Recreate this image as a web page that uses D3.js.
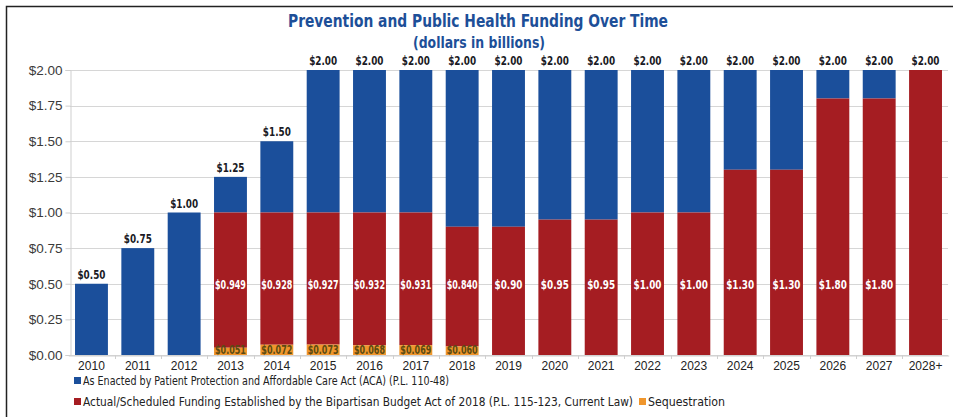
<!DOCTYPE html>
<html>
<head>
<meta charset="utf-8">
<script src="https://cdn.jsdelivr.net/npm/d3@7/dist/d3.min.js"></script>
<style>
  html, body { margin: 0; padding: 0; background: #fff; }
  svg { display: block; }
</style>
</head>
<body>
<svg id="chart" width="953" height="417"></svg>
<script>
// Fiscal years shown on the x-axis
const years = ["2010","2011","2012","2013","2014","2015","2016","2017","2018","2019",
               "2020","2021","2022","2023","2024","2025","2026","2027","2028+"];
// Total funding as enacted by the ACA (billions)
const enacted = [0.50, 0.75, 1.00, 1.25, 1.50, 2.00, 2.00, 2.00, 2.00, 2.00,
                 2.00, 2.00, 2.00, 2.00, 2.00, 2.00, 2.00, 2.00, 2.00];
// Actual / scheduled funding under the Bipartisan Budget Act of 2018 (billions)
const actual = [null, null, null, 0.949, 0.928, 0.927, 0.932, 0.931, 0.840, 0.90,
                0.95, 0.95, 1.00, 1.00, 1.30, 1.30, 1.80, 1.80, 2.00];
const actualText = [null, null, null, "$0.949", "$0.928", "$0.927", "$0.932", "$0.931", "$0.840", "$0.90",
                    "$0.95", "$0.95", "$1.00", "$1.00", "$1.30", "$1.30", "$1.80", "$1.80", null];
// Amount withheld by sequestration (billions)
const sequestration = [null, null, null, 0.051, 0.072, 0.073, 0.068, 0.069, 0.060, null,
                       null, null, null, null, null, null, null, null, null];
const yTicks = [0, 0.25, 0.5, 0.75, 1.0, 1.25, 1.5, 1.75, 2.0];

const BLUE = "#1b4f9b", RED = "#a51d22", ORANGE = "#f0962c";
const condensed = "'Liberation Sans Narrow', 'DejaVu Sans Condensed', 'Arial Narrow', sans-serif";
// squeeze bold labels into a narrow footprint
const labelWidth = s => s.length <= 5 ? 28 : 31;

const svg = d3.select("#chart");

// outer frame
svg.append("rect").attr("x", 6.5).attr("y", 6.5).attr("width", 1000).attr("height", 500)
  .attr("fill", "none").attr("stroke", "#222").attr("stroke-width", 1.5);

const x = d3.scaleBand().domain(years).range([68.3, 948.7]).paddingInner(0.29).paddingOuter(0.145);
const y = d3.scaleLinear().domain([0, 2]).range([355, 70]);

// gridlines
svg.append("g").selectAll("line").data(yTicks).join("line")
  .attr("x1", 70).attr("x2", 948)
  .attr("y1", d => Math.round(y(d)) + 0.5).attr("y2", d => Math.round(y(d)) + 0.5)
  .attr("stroke", "#d6d6d6").attr("stroke-width", 1);

// y axis
const yAxis = d3.axisLeft(y).tickValues(yTicks).tickFormat(d => "$" + d3.format(".2f")(d)).tickSize(5).tickPadding(3);
const gy = svg.append("g").attr("transform", "translate(70.5,0)").call(yAxis);
gy.select(".domain").attr("stroke", "#cfcfcf");
gy.selectAll(".tick line").attr("stroke", "#cfcfcf");
gy.selectAll("text").attr("font-family", "'Liberation Sans', Arial, sans-serif")
  .attr("font-size", 13.5).attr("fill", "#3a3a3a");

// x axis
const xAxis = d3.axisBottom(x).tickSize(0).tickPadding(6);
const gx = svg.append("g").attr("transform", "translate(0,355.5)").call(xAxis);
gx.select(".domain").attr("stroke", "#cfcfcf");
gx.selectAll("text").attr("font-family", "'Liberation Sans', Arial, sans-serif")
  .attr("font-size", 12).attr("fill", "#222");
// small ticks between categories
svg.append("g").selectAll("line").data(years.slice(1)).join("line")
  .attr("x1", d => Math.round(x(d) - x.step() * x.paddingInner() / 2) + 0.5)
  .attr("x2", d => Math.round(x(d) - x.step() * x.paddingInner() / 2) + 0.5)
  .attr("y1", 355).attr("y2", 359).attr("stroke", "#cfcfcf");

const rows = years.map((yr, i) => ({
  yr, total: enacted[i], act: actual[i], seq: sequestration[i] || 0, actText: actualText[i]
}));

// blue: enacted amount above actual funding
svg.append("g").selectAll("rect").data(rows).join("rect")
  .attr("x", d => x(d.yr)).attr("width", x.bandwidth())
  .attr("y", d => y(d.total))
  .attr("height", d => y((d.act ?? 0) + d.seq) - y(d.total))
  .attr("fill", BLUE);

// red: actual / scheduled funding
svg.append("g").selectAll("rect").data(rows.filter(d => d.act != null)).join("rect")
  .attr("x", d => x(d.yr)).attr("width", x.bandwidth())
  .attr("y", d => y(d.act + d.seq))
  .attr("height", d => y(d.seq) - y(d.act + d.seq))
  .attr("fill", RED);

// orange: sequestration at the base
svg.append("g").selectAll("rect").data(rows.filter(d => d.seq > 0)).join("rect")
  .attr("x", d => x(d.yr)).attr("width", x.bandwidth())
  .attr("y", d => y(d.seq))
  .attr("height", d => y(0) - y(d.seq))
  .attr("fill", ORANGE);

// total labels above bars
svg.append("g").selectAll("text").data(rows).join("text")
  .attr("x", d => x(d.yr) + x.bandwidth() / 2)
  .attr("y", d => y(d.total) - 5)
  .attr("text-anchor", "middle")
  .attr("font-family", condensed).attr("font-weight", "bold").attr("font-size", 13)
  .attr("fill", "#1a1a24")
  .attr("textLength", 28).attr("lengthAdjust", "spacingAndGlyphs")
  .text(d => "$" + d3.format(".2f")(d.total));

// actual funding labels inside red bars
svg.append("g").selectAll("text").data(rows.filter(d => d.actText)).join("text")
  .attr("x", d => x(d.yr) + x.bandwidth() / 2)
  .attr("y", y(0.49) + 4)
  .attr("text-anchor", "middle")
  .attr("font-family", condensed).attr("font-weight", "bold").attr("font-size", 12)
  .attr("fill", "#fff")
  .attr("textLength", d => labelWidth(d.actText)).attr("lengthAdjust", "spacingAndGlyphs")
  .text(d => d.actText);

// sequestration labels at the base
svg.append("g").selectAll("text").data(rows.filter(d => d.seq > 0)).join("text")
  .attr("x", d => x(d.yr) + x.bandwidth() / 2)
  .attr("y", y(0) - 1)
  .attr("text-anchor", "middle")
  .attr("font-family", condensed).attr("font-weight", "bold").attr("font-size", 12)
  .attr("fill", "#5b4a12")
  .attr("textLength", 31).attr("lengthAdjust", "spacingAndGlyphs")
  .text(d => "$" + d3.format(".3f")(d.seq));

// title
svg.append("text").attr("x", 478).attr("y", 27).attr("text-anchor", "middle")
  .attr("font-family", condensed).attr("font-weight", "bold").attr("font-size", 18)
  .attr("fill", "#1d4f98").attr("textLength", 380).attr("lengthAdjust", "spacingAndGlyphs")
  .text("Prevention and Public Health Funding Over Time");
svg.append("text").attr("x", 479).attr("y", 48).attr("text-anchor", "middle")
  .attr("font-family", condensed).attr("font-weight", "bold").attr("font-size", 15)
  .attr("fill", "#1d4f98").attr("textLength", 132).attr("lengthAdjust", "spacingAndGlyphs")
  .text("(dollars in billions)");

// legend
const legend = [
  { color: BLUE, label: "As Enacted by Patient Protection and Affordable Care Act (ACA) (P.L. 110-48)", x: 74, y: 385, w: 366 },
  { color: RED, label: "Actual/Scheduled Funding Established by the Bipartisan Budget Act of 2018 (P.L. 115-123, Current Law)", x: 74, y: 406, w: 550 },
  { color: ORANGE, label: "Sequestration", x: 639, y: 406, w: 77 }
];
const lg = svg.append("g").selectAll("g").data(legend).join("g");
lg.append("rect").attr("x", d => d.x).attr("y", d => d.y - 8).attr("width", 7).attr("height", 7).attr("fill", d => d.color);
lg.append("text").attr("x", d => d.x + 9).attr("y", d => d.y)
  .attr("font-family", condensed).attr("font-size", 11.5).attr("fill", "#222")
  .attr("textLength", d => d.w).attr("lengthAdjust", "spacingAndGlyphs")
  .text(d => d.label);
</script>
</body>
</html>
